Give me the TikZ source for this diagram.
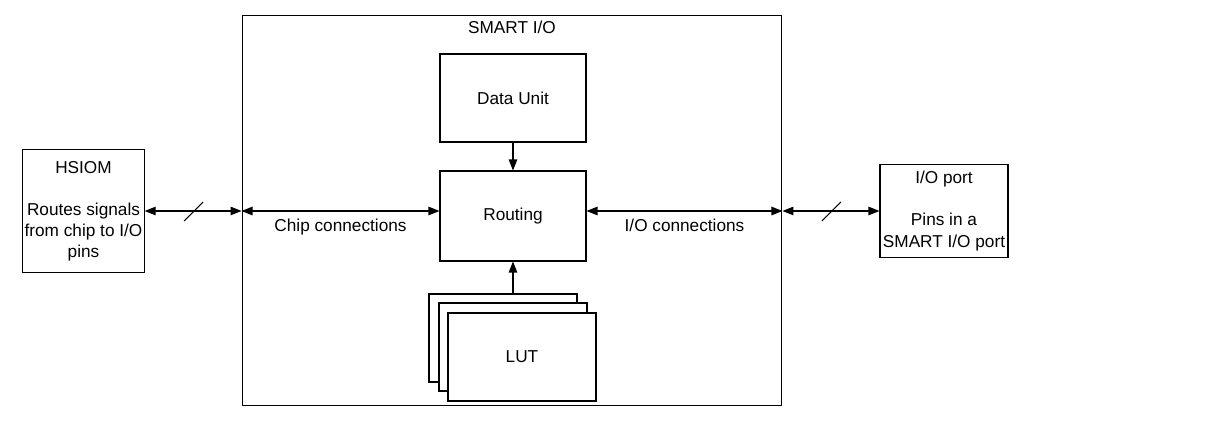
\documentclass[tikz,border=0pt]{standalone}
\usepackage{fontspec}
\setmainfont{Liberation Sans}
\usetikzlibrary{arrows.meta,positioning,calc}
\tikzset{
 block/.style={draw,line width=0.6pt,align=center,font=\fontsize{9.8}{12}\selectfont,
             inner sep=1pt},
 lutbox/.style={block,fill=white,minimum width=2.96cm,minimum height=1.76cm},
 arrow/.style={-{Triangle[length=2.2mm,width=1.7mm]},line width=0.6pt},
 biarrow/.style={{Triangle[length=2.2mm,width=1.7mm]}-{Triangle[length=2.2mm,width=1.7mm]},line width=0.6pt},
 lbl/.style={font=\fontsize{9.8}{12}\selectfont}
}

\begin{document}
\begin{tikzpicture}[x=0.02cm,y=-0.02cm]
\useasboundingbox (0,0) rectangle (1215,448);
\node[block,minimum width=10.8cm,minimum height=7.82cm] (smart) at (512,210.5) {};
\node[lbl] (title) at (512,27) {SMART I/O};
\node[block,minimum width=2.92cm,minimum height=1.76cm] (data) at (513,98) {Data Unit};
\node[block,minimum width=2.92cm,minimum height=1.8cm] (routing) at (513,216) {Routing};
\node[lutbox] (lut3) at (503,338) {};
\node[lutbox] (lut2) at (513,347) {};
\node[lutbox] (lut1) at (522,357) {LUT};
\node[block,minimum width=2.42cm,minimum height=2.46cm] (hsiom) at (83.5,211)
  {HSIOM\\[12pt]Routes signals\\from chip to I/O\\pins};
\node[block,minimum width=2.56cm,minimum height=1.86cm] (ioport) at (944,211)
  {I/O port\\[12pt]Pins in a\\SMART I/O port};
% connections
\draw[biarrow] (hsiom.east) -- (hsiom.east -| smart.west);
\draw[biarrow] (hsiom.east -| smart.west) -- (hsiom.east -| routing.west)
  node[lbl,midway,below=1pt] {Chip connections};
\draw[biarrow] (hsiom.east -| routing.east) -- (hsiom.east -| smart.east)
  node[lbl,midway,below=1pt] {I/O connections};
\draw[biarrow] (hsiom.east -| smart.east) -- (ioport.west);
\draw[arrow] (data) -- (routing);
\draw[arrow] (routing.south |- lut3.north) -- (routing.south);
% bus marks
\draw[line width=0.6pt] ($(hsiom.east)!0.5!(hsiom.east -| smart.west)$) ++(-9,10) -- ++(19,-19);
\draw[line width=0.6pt] ($(hsiom.east -| smart.east)!0.5!(ioport.west)$) ++(-9,10) -- ++(19,-19);
\end{tikzpicture}
\end{document}
